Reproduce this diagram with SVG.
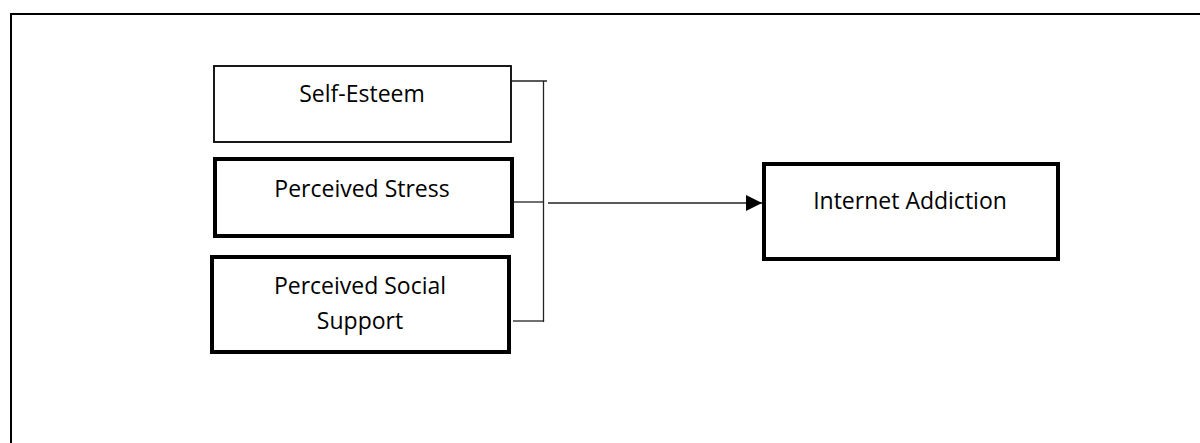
<svg xmlns="http://www.w3.org/2000/svg" width="1200" height="443" viewBox="0 0 1200 443">
  <defs>
    <marker id="arrow" viewBox="0 0 16 16" refX="16" refY="8" markerWidth="16" markerHeight="16" markerUnits="userSpaceOnUse" orient="auto">
      <path d="M0,0 L16,8 L0,16 Z" fill="#000"/>
    </marker>
    <style>
      .box { fill: #fff; stroke: #000; }
      .thin { stroke-width: 1.8; }
      .thick { stroke-width: 4; }
      .label { font-family: "Open Sans", "Liberation Sans", sans-serif; font-size: 23px; fill: #000; text-anchor: middle; }
      .conn { stroke: #222; stroke-width: 1.3; fill: none; }
    </style>
  </defs>
  <rect x="0" y="0" width="1200" height="443" fill="#fff"/>
  <path d="M11,443 L11,14 L1200,14" fill="none" stroke="#000" stroke-width="2"/>

  <g id="self-esteem">
    <rect class="box thin" x="214" y="66" width="297" height="76"/>
    <text class="label" x="362" y="102">Self-Esteem</text>
  </g>
  <g id="perceived-stress">
    <rect class="box thick" x="215" y="159" width="297" height="77"/>
    <text class="label" x="362" y="197">Perceived Stress</text>
  </g>
  <g id="perceived-social-support">
    <rect class="box thick" x="212" y="257" width="297" height="95"/>
    <text class="label" x="360" y="294">Perceived Social</text>
    <text class="label" x="360" y="329">Support</text>
  </g>
  <g id="internet-addiction">
    <rect class="box thick" x="764" y="164" width="294" height="95"/>
    <text class="label" x="910" y="209">Internet Addiction</text>
  </g>

  <g id="connectors">
    <line class="conn" x1="512" y1="81" x2="547" y2="81"/>
    <line class="conn" x1="514" y1="202" x2="543" y2="202"/>
    <line class="conn" x1="513" y1="321" x2="544" y2="321"/>
    <line class="conn" x1="543.5" y1="81" x2="543.5" y2="322"/>
    <line class="conn" x1="548" y1="203" x2="762" y2="203" marker-end="url(#arrow)"/>
  </g>
</svg>
